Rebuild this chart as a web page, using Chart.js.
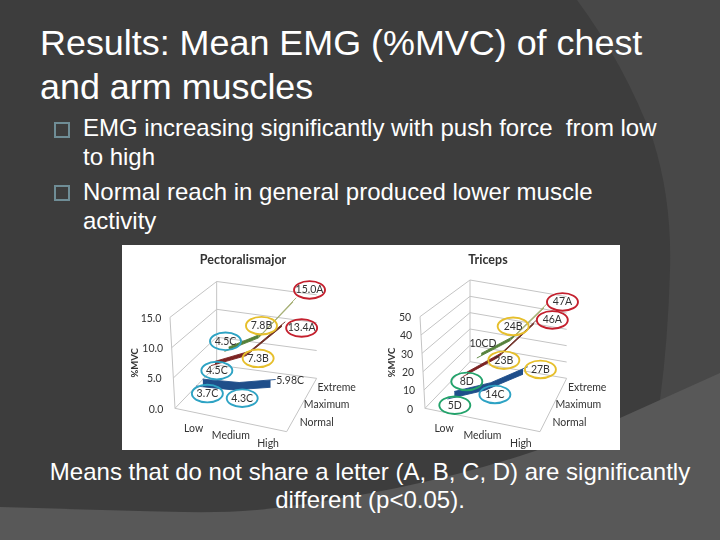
<!DOCTYPE html>
<html><head><meta charset="utf-8">
<style>
html,body{margin:0;padding:0;width:720px;height:540px;overflow:hidden;background:#3d3d3d;font-family:"Liberation Sans",Arial,sans-serif;color:#fff}
svg.bg{position:absolute;left:0;top:0}
.t{position:absolute;white-space:pre;color:#fff}
.title{left:40px;font-size:35.9px;line-height:44px}
.body{left:83px;font-size:24px;line-height:29px}
.foot{left:10px;width:720px;text-align:center;font-size:24px;line-height:28px}
.box{position:absolute;left:54px;width:12px;height:12px;border:2px solid #6f8d96}
#panel{position:absolute;left:122px;top:245px;width:498px;height:205px;background:#fff}
#panel canvas{position:absolute;top:0;filter:blur(0.5px)}
</style></head><body>
<svg class="bg" width="720" height="540">
<path d="M577 0 Q625 65 653 140 Q672 200 670 270 Q668 340 660 400 L720 400 L720 0 Z" fill="#484848"/>
<path d="M0 507 Q100 510 184 512 Q235 513 275 508 Q420 490 535 451 L620 418 L720 373 L720 540 L0 540 Z" fill="#585858"/>
</svg>
<div class="t title" style="top:21px">Results: Mean EMG (%MVC) of chest</div>
<div class="t title" style="top:65px">and arm muscles</div>
<div class="box" style="top:122px"></div>
<div class="t body" style="top:113px">EMG increasing significantly with push force  from low</div>
<div class="t body" style="top:142px">to high</div>
<div class="box" style="top:185px"></div>
<div class="t body" style="top:177px">Normal reach in general produced lower muscle</div>
<div class="t body" style="top:206px">activity</div>
<div id="panel">
<canvas id="c1" width="249" height="205" style="left:0"></canvas>
<canvas id="c2" width="249" height="205" style="left:249px"></canvas>
</div>
<div class="t foot" style="top:458px">Means that do not share a letter (A, B, C, D) are significantly</div>
<div class="t foot" style="top:486px">different (p&lt;0.05).</div>
<script src="https://cdn.jsdelivr.net/npm/chart.js@4"></script>
<script>
const categories = ['Low', 'Medium', 'High'];
const depths = ['Normal', 'Maximum', 'Extreme'];

const pectNormal = [3.7, 4.3, 5.98];
const pectMaximum = [4.5, 7.3, 13.4];
const pectExtreme = [4.5, 7.8, 15.0];
const pectTicks = [0, 5, 10, 15];
const pectNormalTags = ['3.7C', '4.3C', '5.98C'];
const pectMaximumTags = ['4.5C', '7.3B', '13.4A'];
const pectExtremeTags = ['4.5C', '7.8B', '15.0A'];

const triNormal = [5, 14, 27];
const triMaximum = [8, 23, 46];
const triExtreme = [10, 24, 47];
const triTicks = [0, 10, 20, 30, 40, 50];
const triNormalTags = ['5D', '14C', '27B'];
const triMaximumTags = ['8D', '23B', '46A'];
const triExtremeTags = ['10CD', '24B', '47A'];

const RED = '#c4202e', YEL = '#e6bf2c', BLU = '#2ea3c4', GRN = '#23a36b';
const SERIES_STYLE = [
  {fill: '#1f4e8a', top: '#1f4e8a', width: 0.16},
  {fill: '#7b2323', top: '#6b2a20', width: 0.1},
  {fill: '#55803a', top: '#a3ad70', width: 0.1}
];

/* View frames: oblique box corners, in 3x-crop units. */
const pectView = {
  title: 'Pectoralismajor', ox: 2, vMax: 15, tickFmt: v => v.toFixed(1), ticks: pectTicks,
  FL: [165, 490], FR: [500, 560], BL: [290, 360], BR: [590, 400], hF: 18.2, hB: 16.7, tilt: 15,
  titleX: 121, tickDx: -19, axisDx: -38, axisLabel: '%MVC', depthDx: 25,
  series: [pectNormal, pectMaximum, pectExtreme],
  tags: [pectNormalTags, pectMaximumTags, pectExtremeTags],
  rings: [[BLU, BLU, null], [BLU, YEL, RED], [BLU, YEL, RED]],
  offs: [[[8, 11], [6, 12], [17, -3]], [[4, 7], [10, 5], [18, 4]], [[-1, -8], [1, -10], [15, -10]]]
};
const triView = {
  title: 'Triceps', ox: 1, vMax: 50, tickFmt: v => String(v), ticks: triTicks,
  FL: [165, 490], FR: [510, 560], BL: [300, 350], BR: [590, 400], hF: 5.5, hB: 4.9, tilt: 15,
  titleX: 117, tickDx: -15, axisDx: -31, axisLabel: '%MVC', depthDx: 25,
  series: [triNormal, triMaximum, triExtreme],
  tags: [triNormalTags, triMaximumTags, triExtremeTags],
  rings: [[GRN, BLU, YEL], [GRN, YEL, RED], [null, YEL, RED]],
  offs: [[[4, 10], [7, 8], [15, -1]], [[2, 7], [4, 5], [17, -2]], [[4, -12], [1, -12], [17, -4]]]
};

function project(view, u, v, value) {
  const b = (i) => (1 - u) * (1 - v) * view.FL[i] + u * (1 - v) * view.FR[i] + (1 - u) * v * view.BL[i] + u * v * view.BR[i];
  const h = view.hF * (1 - v) + view.hB * v;
  const X = b(0) - view.tilt * (value / view.vMax) * (1 - u) * (1 - v);
  const Y = b(1) - h * value;
  return {x: X / 3 - view.ox, y: Y / 3};
}
const uOf = i => (i + 0.5) / categories.length;
const vOf = i => (i + 0.5) / depths.length;

function buildDatasets(view) {
  const ds = [];
  const grid = (data) => ds.push({data, borderColor: '#c4c4c4', borderWidth: 1, pointRadius: 0, fill: false, tension: 0, order: 20});
  for (const t of view.ticks) {
    grid([project(view, 0, 0, t), project(view, 0, 1, t), project(view, 1, 1, t)]);
  }
  grid([project(view, 0, 0, 0), project(view, 0, 0, view.vMax)]);
  grid([project(view, 0, 1, 0), project(view, 0, 1, view.vMax)]);
  grid([project(view, 0, 0, 0), project(view, 1, 0, 0), project(view, 1, 1, 0)]);
  [2, 1, 0].forEach((s) => {
    const st = SERIES_STYLE[s];
    const edge = (dv) => view.series[s].map((val, i) => project(view, uOf(i), vOf(s) + dv, val));
    const common = {
      borderColor: st.fill, borderWidth: 0.9, pointRadius: 0, tension: 0, backgroundColor: st.fill,
      order: 10 - s, spanGaps: true,
      segment: {
        borderColor: c => c.p0DataIndex === 1 ? st.top : st.fill,
        backgroundColor: c => c.p0DataIndex === 1 ? st.top : st.fill
      }
    };
    ds.push({...common, label: depths[s], data: edge(st.width / 2), fill: '+1'});
    ds.push({...common, label: depths[s] + ' edge', data: edge(-st.width / 2), fill: false});
  });
  return ds;
}

const annotate = (view) => ({
  id: 'annotate',
  afterDatasetsDraw(chart) {
    const {ctx, scales: {x, y}} = chart;
    const px = (p) => [x.getPixelForValue(p.x), y.getPixelForValue(p.y)];
    const small = '10.5px Lato';
    ctx.save();
    ctx.fillStyle = '#333333';
    ctx.textAlign = 'center';
    ctx.textBaseline = 'middle';
    ctx.font = 'bold 12.5px Lato';
    ctx.fillText(view.title, view.titleX, 15);
    ctx.font = small;
    for (const t of view.ticks) {
      const [a, b] = px(project(view, 0, 0, t));
      ctx.fillText(view.tickFmt(t), a + view.tickDx, b + 1);
    }
    categories.forEach((c, i) => {
      const [a, b] = px(project(view, uOf(i), 0, 0));
      ctx.fillText(c, a, b + 16);
    });
    depths.forEach((d, i) => {
      const [a, b] = px(project(view, 1, vOf(i), 0));
      ctx.fillText(d, a + view.depthDx, b);
    });
    const [ax, ay] = px(project(view, 0, 0, view.vMax / 2));
    ctx.save();
    ctx.translate(ax + view.axisDx, ay);
    ctx.rotate(-Math.PI / 2);
    ctx.font = 'bold 9.5px Lato';
    ctx.fillText(view.axisLabel, 0, 0);
    ctx.restore();
    ctx.font = small;
    view.series.forEach((vals, s) => vals.forEach((val, i) => {
      const [a, b] = px(project(view, uOf(i), vOf(s), val));
      const [dx, dy] = view.offs[s][i];
      const cx = a + dx, cy = b + dy;
      const ring = view.rings[s][i];
      if (ring) {
        ctx.beginPath();
        ctx.ellipse(cx, cy, 15.5, 8.8, 0, 0, Math.PI * 2);
        ctx.strokeStyle = ring;
        ctx.lineWidth = 1.9;
        ctx.stroke();
      }
      ctx.fillStyle = '#333333';
      ctx.fillText(view.tags[s][i], cx, cy);
    }));
    ctx.restore();
  }
});

function draw(id, view) {
  new Chart(document.getElementById(id), {
    type: 'line',
    data: {datasets: buildDatasets(view)},
    options: {
      responsive: false,
      animation: false,
      parsing: false,
      normalized: false,
      layout: {padding: 0},
      plugins: {legend: {display: false}, tooltip: {enabled: false}, title: {display: false}},
      clip: false,
      scales: {
        x: {type: 'linear', min: 0, max: 249, display: false},
        y: {type: 'linear', min: 0, max: 205, reverse: true, display: false}
      }
    },
    plugins: [annotate(view)]
  });
}
document.fonts.ready.then(() => {
  draw('c1', pectView);
  draw('c2', triView);
});
</script>
</body></html>
